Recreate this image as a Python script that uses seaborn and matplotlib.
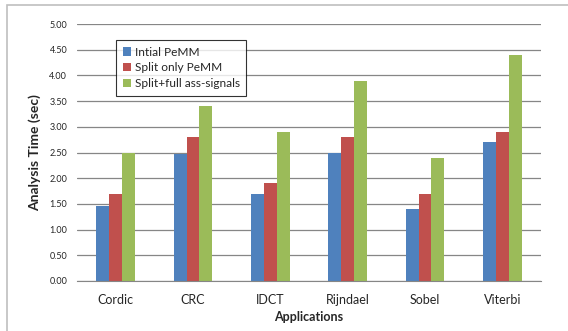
import pandas as pd
import matplotlib
matplotlib.use("Agg")
import matplotlib.pyplot as plt
import seaborn as sns
from matplotlib.patches import Rectangle

# Data
applications = ["Cordic", "CRC", "IDCT", "Rijndael", "Sobel", "Viterbi"]
series_names = ["Intial PeMM", "Split only PeMM", "Split+full ass-signals"]
initial_pemm = [1.45, 2.47, 1.70, 2.50, 1.40, 2.70]
split_only = [1.70, 2.80, 1.90, 2.80, 1.70, 2.90]
split_full = [2.50, 3.40, 2.90, 3.90, 2.40, 4.40]
colors = ["#4F81BD", "#C0504D", "#9BBB59"]

df = pd.DataFrame({
    "Application": applications * 3,
    "Series": [s for s in series_names for _ in applications],
    "Time": initial_pemm + split_only + split_full,
})

sns.set_style("white")
plt.rcParams["font.family"] = ["Lato", "DejaVu Sans"]

fig = plt.figure(figsize=(5.68, 3.31), dpi=100)
ax = fig.add_axes([77 / 568, 1 - 281 / 331, 464 / 568, 257 / 331])

sns.barplot(data=df, x="Application", y="Time", hue="Series",
            palette=colors, width=0.5, gap=0, saturation=1,
            edgecolor="none", ax=ax)

ax.set_ylim(0, 5)
ax.set_yticks([i * 0.5 for i in range(11)])
ax.set_yticklabels([f"{i * 0.5:.2f}" for i in range(11)], fontsize=6.5)
ax.tick_params(axis="x", labelsize=9, length=0, pad=9)
ax.tick_params(axis="y", length=3, color="#868686", pad=4)
ax.yaxis.grid(True, color="#868686", linewidth=0.9)
ax.set_axisbelow(True)
for side in ["top", "right", "left"]:
    ax.spines[side].set_visible(False)
ax.spines["bottom"].set_color("#868686")

ax.set_xlabel("Applications", fontsize=9, fontweight="bold", labelpad=4)
ax.set_ylabel("Analysis Time (sec)", fontsize=10, fontweight="bold", labelpad=6)

leg = ax.legend(loc="upper left", bbox_to_anchor=(39 / 464, 1 - 16 / 257),
                fontsize=8.6, frameon=True, fancybox=False, handlelength=0.7,
                handleheight=0.7, handletextpad=0.3, borderpad=0.55,
                labelspacing=0.4, borderaxespad=0)
leg.get_frame().set_edgecolor("black")
leg.get_frame().set_linewidth(0.8)

# outer chart-area frame
fig.patches.append(Rectangle((7 / 568, -0.1), 1.1, 1 - 5 / 331 + 0.1,
                             transform=fig.transFigure, fill=False,
                             edgecolor="#bfbfbf", linewidth=1.2))

fig.savefig("out.png", dpi=100)
